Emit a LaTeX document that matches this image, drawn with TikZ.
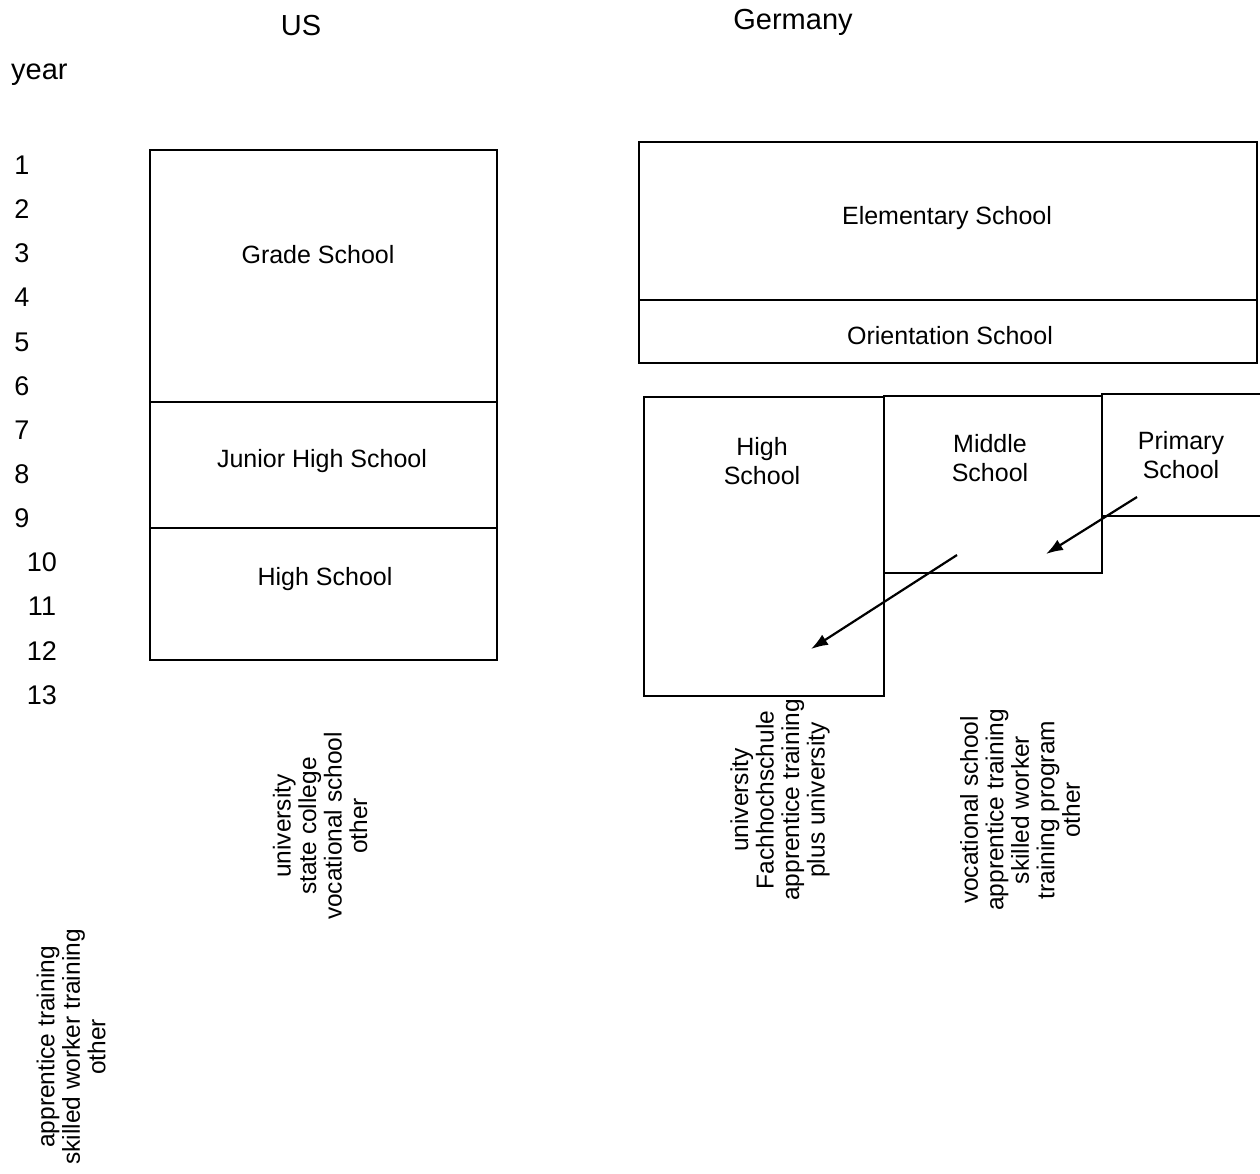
\documentclass[tikz,border=0pt]{standalone}
\usepackage{fontspec}
\setmainfont{Liberation Sans}
\usetikzlibrary{arrows.meta}
\tikzset{
  box/.style={draw, line width=2.4pt, inner sep=0pt, outer sep=0pt, anchor=north west},
  lab/.style={font=\fontsize{25}{29}\selectfont, align=center, inner sep=0pt},
  head/.style={font=\fontsize{29}{32}\selectfont, inner sep=0pt},
  yr/.style={font=\fontsize{27}{30}\selectfont, inner sep=0pt},
  vlab/.style={font=\fontsize{24.5}{25.5}\selectfont, align=center, rotate=90, inner sep=0pt},
  arr/.style={line width=2.2pt, -{Latex[length=17pt,width=12pt]}}
}
\begin{document}
\begin{tikzpicture}[x=1pt,y=-1pt]
\useasboundingbox (0,0) rectangle (1260,1173);
\clip (0,0) rectangle (1260,1173);
% headings
\node[head] (us) at (301,26) {US};
\node[head] (de) at (793,22) {Germany};
\node[head, anchor=west] (year) at (11,75) {year};
% year numbers
\foreach \n/\y in {1/165,2/209,3/253,4/297,5/342,6/386,7/430,8/474,9/518}{
  \node[yr] (y\n) at (22,\y) {\n};
}
\foreach \n/\y in {10/562,11/606,12/651,13/695}{
  \node[yr] (y\n) at (42,\y) {\n};
}
% US boxes
\node[box, minimum width=347pt, minimum height=252pt] (grade) at (150,150) {};
\node[box, minimum width=347pt, minimum height=126pt] (junior) at (150,402) {};
\node[box, minimum width=347pt, minimum height=132pt] (ushigh) at (150,528) {};
\node[lab] (tgrade) at (318,255) {Grade School};
\node[lab] (tjunior) at (322,461) {Junior High School};
\node[lab] (tushigh) at (325,579) {High School};
% Germany boxes
\node[box, minimum width=618pt, minimum height=158pt] (elem) at (639,142) {};
\node[box, minimum width=618pt, minimum height=63pt] (orient) at (639,300) {};
\node[lab] (telem) at (947,218) {Elementary School};
\node[lab] (torient) at (950,336) {Orientation School};
\node[box, minimum width=240pt, minimum height=299pt] (dehigh) at (644,397) {};
\node[box, minimum width=218pt, minimum height=177pt] (middle) at (884,396) {};
\node[box, minimum width=200pt, minimum height=122pt] (primary) at (1102,394) {};
\node[lab] (tdehigh) at (762,461) {High\\School};
\node[lab] (tmiddle) at (990,458) {Middle\\School};
\node[lab] (tprimary) at (1181,455) {Primary\\School};
% arrows
\coordinate (a1s) at (1137,497);
\coordinate (a1e) at (1046,554);
\coordinate (a2s) at (957,555);
\coordinate (a2e) at (811,649);
\draw[arr] (a1s) -- (a1e);
\draw[arr] (a2s) -- (a2e);
% rotated outcome labels
\node[vlab] (usout) at (320,826) {university\\state college\\vocational school\\other};
\node[vlab] (deout1) at (780,800) {university\\Fachhochschule\\apprentice training\\plus university};
\node[vlab] (deout2) at (1020,810) {vocational school\\apprentice training\\skilled worker\\training program\\other};
\node[vlab] (leftout) at (71,1047) {apprentice training\\skilled worker training\\other};
\end{tikzpicture}
\end{document}
